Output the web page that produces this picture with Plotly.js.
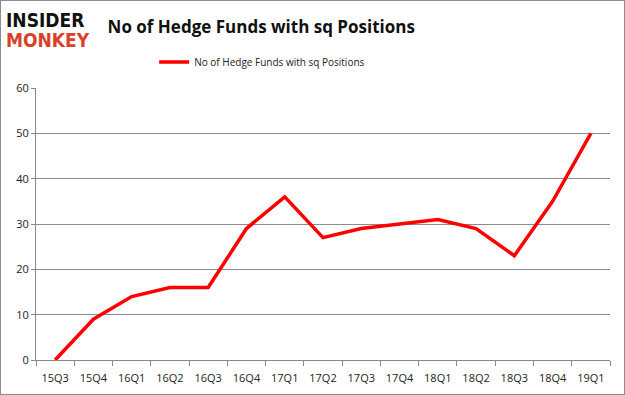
<!DOCTYPE html>
<html><head><meta charset="utf-8">
<script src="https://cdn.plot.ly/plotly-3.0.1.min.js"></script>
<style>
html,body{margin:0;padding:0;background:#fff;}
#wrap{position:relative;width:625px;height:395px;}
#chart{width:625px;height:395px;}
#border{position:absolute;left:0;top:0;width:623px;height:393px;border:1px solid #8c8c8c;pointer-events:none;}
</style></head>
<body>
<div id="wrap"><div id="chart"></div><div id="border"></div></div>
<script>
const categories = ["15Q3","15Q4","16Q1","16Q2","16Q3","16Q4","17Q1","17Q2","17Q3","17Q4","18Q1","18Q2","18Q3","18Q4","19Q1"];
const hedgeFunds = [0,9,14,16,16,29,36,27,29,30,31,29,23,35,50];
const seriesName = "No of Hedge Funds with sq Positions";
const chartTitle = "No of Hedge Funds with sq Positions";
const yTicks = [0,10,20,30,40,50,60];

const trace = {
  x: categories, y: hedgeFunds, type: "scatter", mode: "lines",
  name: seriesName, line: {color: "#ff0000", width: 3.5}
};
const layout = {
  width: 625, height: 395,
  margin: {l: 36, r: 15, t: 88, b: 35},
  paper_bgcolor: "#fff", plot_bgcolor: "#fff",
  font: {family: "Open Sans, sans-serif", size: 11, color: "#222"},
  showlegend: true,
  legend: {orientation: "h", x: 0.394, xanchor: "center", y: 1.096, yanchor: "middle",
           xref: "paper", yref: "paper", font: {size: 10, color: "#222"}},
  title: {text: "<b>" + chartTitle + "</b>", x: 0.418, xanchor: "center", y: 0.932, yanchor: "middle",
          font: {family: "Open Sans, sans-serif", size: 17, color: "#111"}},
  xaxis: {type: "category", range: [-0.5, 14.5], tickson: "boundaries", ticks: "outside",
          ticklen: 5, tickcolor: "#888", showgrid: false, showline: true, linecolor: "#888",
          ticklabelstandoff: 8,
          tickfont: {size: 11, color: "#222"}, fixedrange: true},
  yaxis: {range: [0, 60], tickvals: yTicks, ticks: "outside", ticklen: 4, tickcolor: "#888",
          showgrid: true, gridcolor: "#8c8c8c", gridwidth: 1, showline: true, linecolor: "#888",
          zeroline: false, tickfont: {size: 11, color: "#222"}, fixedrange: true},
  annotations: [
    {text: "<b>INSIDER</b>", xref: "paper", yref: "paper", x: -0.056, y: 1.25, xanchor: "left", yanchor: "middle",
     showarrow: false, font: {family: "DejaVu Sans Condensed, DejaVu Sans, sans-serif", size: 19, color: "#111"}},
    {text: "<b>MONKEY</b>", xref: "paper", yref: "paper", x: -0.056, y: 1.176, xanchor: "left", yanchor: "middle",
     showarrow: false, font: {family: "DejaVu Sans Condensed, DejaVu Sans, sans-serif", size: 19, color: "#d9412b"}}
  ]
};
Plotly.newPlot("chart", [trace], layout, {displayModeBar: false, staticPlot: true});
</script>
</body></html>
